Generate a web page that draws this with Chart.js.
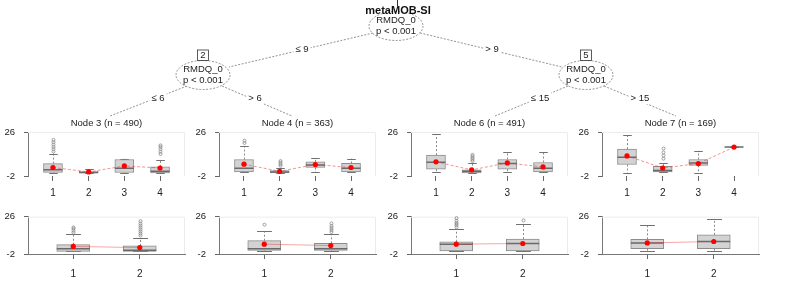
<!DOCTYPE html>
<html>
<head>
<meta charset="utf-8">
<script src="https://cdn.jsdelivr.net/npm/chart.js@4.4.1/dist/chart.umd.min.js"></script>
<style>
  html, body { margin: 0; padding: 0; background: #fff; }
  #wrap { position: relative; width: 789px; height: 301px; overflow: hidden; }
  canvas { position: absolute; }
</style>
</head>
<body>
<div id="wrap">
  <canvas id="tree" width="789" height="301" style="left:0;top:0"></canvas>
</div>
<script>
// categories / labels
const topCats = ['1', '2', '3', '4'];
const bottomCats = ['1', '2'];
const yTicks = [-2, 26];
const nodeTitles = ['Node 3 (n = 490)', 'Node 4 (n = 363)', 'Node 6 (n = 491)', 'Node 7 (n = 169)'];
const splitVar = 'RMDQ_0';
const pValue = 'p < 0.001';
const splitLabels = ['\u2264 9', '> 9', '\u2264 6', '> 6', '\u2264 15', '> 15'];

// top row boxplots (one inner array per leaf node: 3, 4, 6, 7)
const topLow    = [[0, 0, 0, 0], [0.6, 0, 0.6, 0.6], [0.4, 0, 0.4, 0.4], [0, 0.3, 0, 16.4]];
const topQ1     = [[0.3, 0, 0.2, 0], [0.6, 0, 3.4, 0.6], [2.3, 0, 2.3, 0.6], [5.3, 0.6, 4.8, 16.4]];
const topMedian = [[2, 0.3, 3, 1], [3, 0.5, 5, 3], [6.8, 1, 6, 3], [10, 1.5, 6.3, 16.4]];
const topQ3     = [[5.9, 1.2, 8.5, 3.8], [8.5, 1.4, 7, 6], [11.3, 2, 8.5, 6.6], [15.1, 4.2, 8.5, 16.4]];
const topHigh   = [[12.3, 2.5, 9, 8], [17, 3, 9.3, 9], [24.5, 6, 13, 13], [24.3, 6, 14, 16.4]];
const topOutliers = [
  [[13.5, 15, 16.5, 18, 19.5, 21], [], [], [12, 13.5, 15, 16.5, 17.5]],
  [[19, 20.5], [4.5, 5.5, 6.5, 7.5], [], []],
  [[], [7.5, 8.5, 9.5, 10.5, 11.5], [], []],
  [[], [9, 11, 13, 15.5], [], []]
];
const topMean   = [[3.4, 0.6, 4.4, 3.1], [5.5, 1.0, 5.3, 3.4], [7.0, 1.9, 6.3, 3.8], [10.8, 3.1, 5.9, 16.4]];

// bottom row boxplots
const bottomLow    = [[0, 0], [0, 0], [0, 0], [0.2, 0.2]];
const bottomQ1     = [[0, 0], [0.6, 0.6], [0.4, 0.4], [2, 2]];
const bottomMedian = [[1.9, 0.8], [2, 2], [5.4, 5.9], [6.3, 7.4]];
const bottomQ3     = [[5, 4.1], [8, 6], [7.2, 9.2], [9, 12.4]];
const bottomHigh   = [[12.7, 10], [15, 13.3], [16.8, 20.5], [20, 24.5]];
const bottomOutliers = [
  [[14, 15.5, 17, 18], [11.8, 13.3, 14.8, 16.3, 17.8, 19.3, 20.8, 22.7]],
  [[20], [14.5, 16, 17.5, 19, 21]],
  [[18, 19.5, 20.5, 21.5, 23, 25], [23.2]],
  [[], []]
];
const bottomMean   = [[3.7, 2.8], [5.4, 4.3], [5.4, 5.9], [6.3, 7.4]];

const FONT = "'Liberation Sans', Arial, sans-serif";
const axisX = [28, 219, 411, 602];
const wrap = document.getElementById('wrap');

function makePanel(k, row) {
  const isTop = row === 'top';
  const cats = isTop ? topCats : bottomCats;
  const low = (isTop ? topLow : bottomLow)[k];
  const q1 = (isTop ? topQ1 : bottomQ1)[k];
  const med = (isTop ? topMedian : bottomMedian)[k];
  const q3 = (isTop ? topQ3 : bottomQ3)[k];
  const high = (isTop ? topHigh : bottomHigh)[k];
  const outl = (isTop ? topOutliers : bottomOutliers)[k];
  const mean = (isTop ? topMean : bottomMean)[k];

  const padTop = isTop ? 22 : 10;
  const plotH = isTop ? 44 : 42;
  const xAxisH = isTop ? 26 : 30;
  const boxW = isTop ? 19 : 33;
  const xPad = isTop ? 0.7 : 0.68;

  const cv = document.createElement('canvas');
  cv.width = 189;
  cv.height = padTop + plotH + xAxisH;
  cv.style.left = (axisX[k] - 28) + 'px';
  cv.style.top = (isTop ? 110 : 202) + 'px';
  wrap.appendChild(cv);

  const extras = {
    id: 'boxExtras' + row + k,
    beforeDatasetsDraw(chart) {
      const { ctx, chartArea: a, scales: { x, y } } = chart;
      ctx.save();
      // faint plot frame
      ctx.strokeStyle = '#ececec';
      ctx.lineWidth = 1;
      ctx.beginPath();
      ctx.moveTo(a.left, a.top + 0.5);
      ctx.lineTo(a.right - 0.5, a.top + 0.5);
      ctx.lineTo(a.right - 0.5, a.bottom);
      ctx.stroke();
      cats.forEach((c, i) => {
        const px = Math.round(x.getPixelForValue(i + 1)) + 0.5;
        // whiskers
        ctx.strokeStyle = '#8a8a8a';
        ctx.setLineDash([2, 2]);
        ctx.beginPath();
        ctx.moveTo(px, y.getPixelForValue(q3[i]));
        ctx.lineTo(px, y.getPixelForValue(high[i]));
        ctx.moveTo(px, y.getPixelForValue(q1[i]));
        ctx.lineTo(px, y.getPixelForValue(low[i]));
        ctx.stroke();
        ctx.setLineDash([]);
        const cw = boxW * 0.45;
        ctx.strokeStyle = '#707070';
        ctx.beginPath();
        [high[i], low[i]].forEach(v => {
          const py = Math.round(y.getPixelForValue(v)) + 0.5;
          ctx.moveTo(px - cw / 2, py);
          ctx.lineTo(px + cw / 2, py);
        });
        ctx.stroke();
        // outliers
        ctx.strokeStyle = '#8a8a8a';
        ctx.lineWidth = 0.8;
        outl[i].forEach(v => {
          ctx.beginPath();
          ctx.arc(px, y.getPixelForValue(v), 1.5, 0, Math.PI * 2);
          ctx.stroke();
        });
        ctx.lineWidth = 1;
      });
      ctx.restore();
    },
    afterDatasetDraw(chart, args) {
      if (args.index !== 0) return;
      const { ctx, scales: { x, y } } = chart;
      ctx.save();
      ctx.strokeStyle = '#6a6a6a';
      ctx.lineWidth = 1.5;
      ctx.beginPath();
      cats.forEach((c, i) => {
        const px = x.getPixelForValue(i + 1);
        const py = y.getPixelForValue(med[i]);
        ctx.moveTo(px - boxW / 2, py);
        ctx.lineTo(px + boxW / 2, py);
      });
      ctx.stroke();
      ctx.restore();
    },
    afterDraw(chart) {
      if (!isTop) return;
      const { ctx, chartArea: a } = chart;
      ctx.save();
      ctx.font = '9.5px ' + FONT;
      ctx.fillStyle = '#222';
      ctx.textAlign = 'center';
      ctx.textBaseline = 'middle';
      ctx.fillText(nodeTitles[k], (a.left + a.right) / 2, a.top - 9);
      ctx.restore();
    }
  };

  new Chart(cv, {
    data: {
      datasets: [
        {
          type: 'bar',
          data: cats.map((c, i) => ({ x: i + 1, y: [q1[i], q3[i]] })),
          backgroundColor: '#d3d3d3',
          borderColor: '#8c8c8c',
          borderWidth: 1,
          borderSkipped: false,
          barThickness: boxW,
          order: 1
        },
        {
          type: 'line',
          data: cats.map((c, i) => ({ x: i + 1, y: mean[i] })),
          borderColor: isTop ? 'rgba(235, 60, 60, 0.55)' : 'rgba(235, 60, 60, 0.45)',
          borderWidth: 1,
          borderDash: isTop ? [3, 2] : [],
          pointRadius: 2.6,
          pointBackgroundColor: '#ff0000',
          pointBorderColor: '#ff0000',
          pointBorderWidth: 0,
          tension: 0,
          order: 0
        }
      ]
    },
    options: {
      responsive: false,
      animation: false,
      devicePixelRatio: 1,
      layout: { padding: { top: padTop, right: 4, bottom: 0, left: 0 } },
      plugins: { legend: { display: false }, tooltip: { enabled: false } },
      scales: {
        x: {
          type: 'linear',
          offset: false,
          min: 1 - xPad,
          max: cats.length + xPad,
          afterBuildTicks: s => { s.ticks = cats.map((c, i) => ({ value: i + 1 })); },
          afterFit: s => { s.height = xAxisH; },
          ticks: {
            callback: v => cats[v - 1] || '',
            color: '#222',
            font: { family: FONT, size: 10 },
            padding: isTop ? 6 : 9,
            maxRotation: 0,
            autoSkip: false
          },
          grid: { offset: false, drawOnChartArea: false, drawTicks: true, tickLength: 5, color: '#666' },
          border: { display: !isTop, color: '#777' }
        },
        y: {
          min: -2,
          max: 26,
          afterBuildTicks: s => { s.ticks = yTicks.map(v => ({ value: v })); },
          afterFit: s => { s.width = 28; },
          ticks: { color: '#222', font: { family: FONT, size: 9.5 }, padding: 9 },
          grid: { drawOnChartArea: false, tickLength: 4, color: '#666' },
          border: { color: '#777' }
        }
      }
    },
    plugins: [extras]
  });
}

// tree part: split nodes, edges and labels
const treePlugin = {
  id: 'treeDraw',
  afterDraw(chart) {
    const ctx = chart.ctx;
    ctx.save();
    ctx.fillStyle = '#fff';
    ctx.fillRect(0, 0, 789, 301);

    const edges = [
      [373, 33, 229, 67, 302, 49],
      [420, 33, 562, 67, 492, 49],
      [187, 86, 110, 116, 158, 98],
      [222, 86, 292, 116, 255, 98],
      [568, 86, 495, 116, 540, 98],
      [604, 86, 676, 116, 640, 98]
    ];
    ctx.strokeStyle = '#777';
    ctx.lineWidth = 0.8;
    ctx.setLineDash([2, 1.5]);
    edges.forEach(e => {
      ctx.beginPath();
      ctx.moveTo(e[0], e[1]);
      ctx.lineTo(e[2], e[3]);
      ctx.stroke();
    });
    ctx.setLineDash([]);
    ctx.font = '9.5px ' + FONT;
    ctx.textAlign = 'center';
    ctx.textBaseline = 'middle';
    edges.forEach((e, i) => {
      const w = ctx.measureText(splitLabels[i]).width + 4;
      ctx.fillStyle = '#fff';
      ctx.fillRect(e[4] - w / 2, e[5] - 6, w, 12);
      ctx.fillStyle = '#222';
      ctx.fillText(splitLabels[i], e[4], e[5]);
    });

    const nodes = [[396, 26, ''], [203, 75, '2'], [586, 75, '5']];
    nodes.forEach(n => {
      const [cx, cy, id] = n;
      ctx.fillStyle = '#fff';
      ctx.strokeStyle = '#777';
      ctx.lineWidth = 0.8;
      ctx.setLineDash([2, 1.5]);
      ctx.beginPath();
      ctx.ellipse(cx, cy, 27, 14.5, 0, 0, Math.PI * 2);
      ctx.fill();
      ctx.stroke();
      ctx.setLineDash([]);
      ctx.fillStyle = '#222';
      ctx.font = '9.5px ' + FONT;
      if (id) {
        // node id box
        ctx.strokeStyle = '#333';
        ctx.strokeRect(cx - 5.5, cy - 25, 11, 10.5);
        ctx.fillText(id, cx, cy - 19.5);
      }
      ctx.fillText(splitVar, cx, cy - 6);
      ctx.fillText(pValue, cx, cy + 5.5);
    });

    // root id box is hidden behind the title, only its edge shows
    ctx.strokeStyle = '#333';
    ctx.lineWidth = 1;
    ctx.beginPath();
    ctx.moveTo(397.5, 0);
    ctx.lineTo(397.5, 6);
    ctx.stroke();

    // main title
    ctx.font = 'bold 11px ' + FONT;
    ctx.fillStyle = '#111';
    ctx.fillText('metaMOB-SI', 398, 11);
    ctx.restore();
  }
};

new Chart(document.getElementById('tree'), {
  type: 'scatter',
  data: { datasets: [] },
  options: {
    responsive: false,
    animation: false,
    devicePixelRatio: 1,
    plugins: { legend: { display: false }, tooltip: { enabled: false } },
    scales: { x: { display: false }, y: { display: false } }
  },
  plugins: [treePlugin]
});

for (let k = 0; k < 4; k++) {
  makePanel(k, 'top');
  makePanel(k, 'bottom');
}
</script>
</body>
</html>
